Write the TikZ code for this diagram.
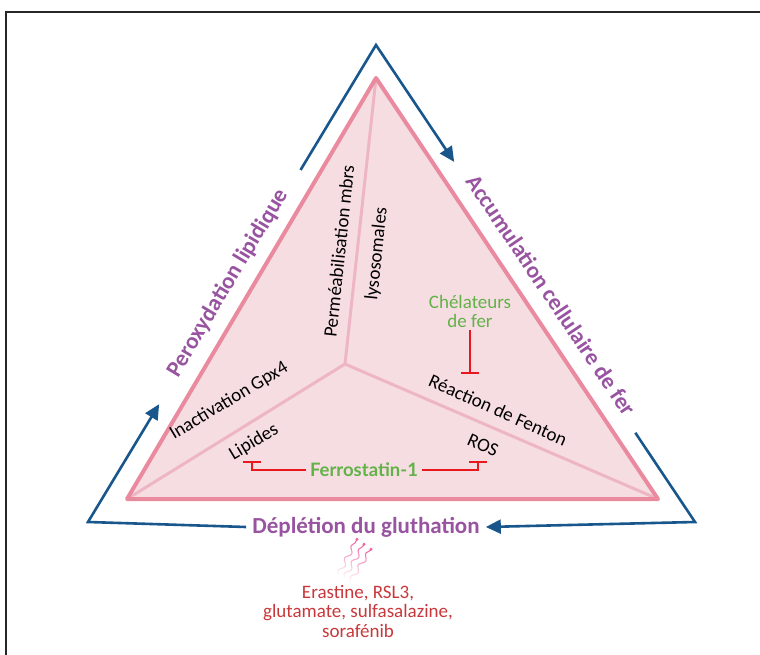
\documentclass[tikz,border=0pt]{standalone}
\usepackage{fontspec}
\setmainfont{Carlito}
\newfontfamily\ferrofont{Lato}
\usetikzlibrary{arrows.meta,calc,decorations.pathmorphing,fadings}

\definecolor{cycleblue}{RGB}{24,86,140}
\definecolor{phasepurple}{RGB}{152,84,160}
\definecolor{trirose}{RGB}{234,138,158}
\definecolor{trifill}{RGB}{246,221,226}
\definecolor{innerrose}{RGB}{238,182,196}
\definecolor{agentgreen}{RGB}{98,178,72}
\definecolor{inhibred}{RGB}{232,24,30}
\definecolor{drugred}{RGB}{200,56,58}
\definecolor{squigpink}{RGB}{240,96,160}

\tikzset{
  cycle arrow/.style={cycleblue, line width=2.6pt, line join=miter,
    -{Triangle[length=15pt,width=14pt]}},
  phase/.style={text=phasepurple, font=\fontsize{23}{27}\selectfont\bfseries, inner sep=6pt},
  mechtext/.style={font=\fontsize{19}{22}\selectfont, inner sep=1pt},
  agent/.style={text=agentgreen, font=\fontsize{19}{19}\selectfont, align=center, inner sep=3pt},
  inhib/.style={inhibred, line width=2.2pt, -{Bar[width=18pt]}},
  squig/.style={squigpink, line width=1.1pt, decorate,
    decoration={snake, amplitude=2.2pt, segment length=14pt}},
}

\begin{document}
\begin{tikzpicture}[x=1pt,y=-1pt]
    % Page size and the frame (only top and left edges are visible):
    \useasboundingbox (0,0) rectangle (760,655);
    \draw [line width=2pt, black!85] (6,655) -- (6,12) -- (760,12);

    % Corners of the two triangles:
    \coordinate (pT)  at (376,78);
    \coordinate (pBL) at (127,499);
    \coordinate (pBR) at (658,499);
    \coordinate (pC)  at (345,364);
    \coordinate (bT)  at (376,45);
    \coordinate (bBL) at (88,522);
    \coordinate (bBR) at (695,522);

    % The pink triangle: fill first, then the three inner lines, then the border
    \fill [trifill] (pT) -- (pBL) -- (pBR) -- cycle;
    \foreach \v in {pT,pBL,pBR}{%
        \draw [innerrose, line width=3pt] (pC) -- (\v);
    }
    \draw [trirose, line width=4pt, line join=round] (pT) -- (pBL) -- (pBR) -- cycle;

    % Labels of the three phases, between the pink and the blue triangles:
    \node [phase, rotate=59]  (perox)  at (228,283) {Peroxydation lipidique};
    \node [phase, rotate=-56] (accum)  at (551,295) {Accumulation cellulaire de fer};
    \node [phase]             (deplet) at (366,527) {Déplétion du gluthation};

    % Blue cycle: three arrows, each broken by a phase label
    \draw [cycle arrow] ($(bT)!0.262!(bBL)$) -- (bT) -- ($(bT)!0.245!(bBR)$);
    \draw [cycle arrow] ($(bBR)!0.187!(bT)$) -- (bBR) -- (deplet.east);
    \draw [cycle arrow] (deplet.west) -- (bBL) -- ($(bBL)!0.247!(bT)$);

    % Texts inside the pink triangle, parallel to the inner lines:
    \node [mechtext, rotate=84]  (permea) at (339,251) {Perméabilisation mbrs};
    \node [mechtext, rotate=84]  (lyso)   at (377,254) {lysosomales};
    \node [mechtext, rotate=31]  (gpx)    at (229,401) {Inactivation Gpx4};
    \node [mechtext, rotate=31]  (lipid)  at (254,442) {Lipides};
    \node [mechtext, rotate=-24] (fenton) at (498,410) {Réaction de Fenton};
    \node [mechtext, rotate=-24] (ros)    at (483,445) {ROS};

    % Inhibitors and their T-bars:
    \node [agent] (chel) at (470,311) {Chélateurs\\de fer};
    \coordinate (chelbar) at (470,374);
    \draw [inhib] (chel.south) -- (chelbar);

    \node [agent, font=\ferrofont\fontsize{18.5}{18.5}\selectfont\bfseries, inner sep=4pt]
        (ferro) at (364,470) {Ferrostatin-1};
    \coordinate (lipbar) at (252,461);
    \coordinate (rosbar) at (478,461);
    \draw [inhib] (ferro.west) -| (lipbar);
    \draw [inhib] (ferro.east) -| (rosbar);

    % Inducers, below the cycle, with three wavy arrows up to the label:
    % (y runs downwards here, so the fading named south keeps the tips opaque)
    \node [text=drugred, font=\fontsize{19}{19.5}\selectfont, align=center]
        (drugs) at (358,611) {Erastine, RSL3,\\glutamate, sulfasalazine,\\sorafénib};
    \foreach \i in {0,1,2}{%
        \draw [squig, path fading=south]
            ($(drugs.north)+(-20+6*\i,-6+3*\i)$) -- ($(deplet.south)+(-9+7*\i,-4+5*\i)$);
        \fill [squigpink] ($(deplet.south)+(-9+7*\i,-4+5*\i)$) circle (1.7pt);
    }
\end{tikzpicture}
\end{document}
